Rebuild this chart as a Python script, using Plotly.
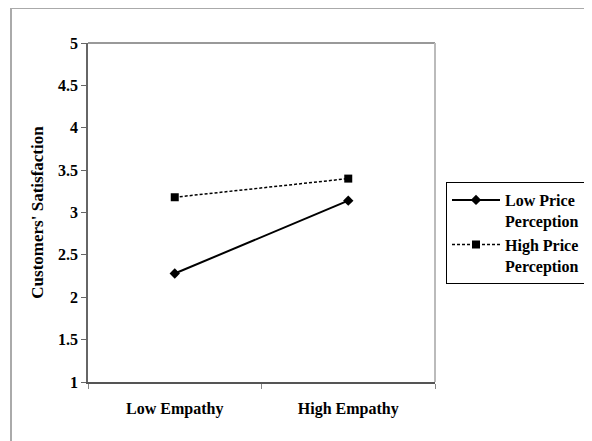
import plotly.graph_objects as go

categories = ["Low Empathy", "High Empathy"]
low_price = [2.28, 3.14]
high_price = [3.18, 3.40]
y_ticks = [1, 1.5, 2, 2.5, 3, 3.5, 4, 4.5, 5]
y_tick_text = ["1", "1.5", "2", "2.5", "3", "3.5", "4", "4.5", "5"]

FONT = "Liberation Serif"

fig = go.Figure()
fig.add_trace(go.Scatter(
    x=categories, y=low_price, mode="lines+markers",
    name="<b>Low Price</b><br><b>Perception</b>",
    line=dict(color="black", width=2),
    marker=dict(symbol="diamond", size=8, color="black"),
))
fig.add_trace(go.Scatter(
    x=categories, y=high_price, mode="lines+markers",
    name="<b>High Price</b><br><b>Perception</b>",
    line=dict(color="black", width=1.5, dash="3px,2px"),
    marker=dict(symbol="square", size=8, color="black"),
))

# page offset compensation (browser body margin ~8px)
OX, OY = 8, 8
W, H = 592, 441
L, T = 88 - OX, 43 - OY
Rpx, Bpx = 435 - OX, 382 - OY
R, B = W - Rpx, H - Bpx
pw, ph = Rpx - L, Bpx - T

def px_x(x):
    return (x - OX - L) / pw

def px_y(y):
    return (Bpx - (y - OY)) / ph

fig.update_layout(
    width=W, height=H,
    margin=dict(l=L, r=R, t=T, b=B),
    paper_bgcolor="white", plot_bgcolor="white",
    font=dict(family=FONT, size=16, color="black"),
    showlegend=True,
    legend=dict(
        x=px_x(446), y=px_y(182), xanchor="left", yanchor="top",
        bordercolor="black", borderwidth=1, bgcolor="white",
        font=dict(family=FONT, size=16, color="black"),
        itemwidth=48, valign="top",
    ),
    xaxis=dict(
        type="category", range=[-0.5, 1.5],
        showline=True, linecolor="#555555", linewidth=1.5,
        mirror=False, showgrid=False, zeroline=False,
        ticks="outside", tickson="boundaries", ticklen=5, tickcolor="#888888",
        tickvals=categories, ticktext=["<b>" + c + "</b>" for c in categories],
        tickfont=dict(family=FONT, size=16, color="black"),
        ticklabelstandoff=11,
    ),
    yaxis=dict(
        range=[1, 5],
        showline=True, linecolor="#666666", linewidth=1.5,
        showgrid=False, zeroline=False,
        ticks="outside", ticklen=5, tickcolor="#666666",
        tickvals=y_ticks, ticktext=["<b>" + t + "</b>" for t in y_tick_text],
        tickfont=dict(family=FONT, size=16, color="black"),
        title=dict(text="<b>Customers' Satisfaction</b>",
                   font=dict(family=FONT, size=17, color="black"), standoff=10),
    ),
    shapes=[
        dict(type="line", xref="paper", yref="paper", x0=0, x1=1, y0=1, y1=1,
             line=dict(color="#999999", width=2)),
        dict(type="line", xref="paper", yref="paper", x0=1, x1=1, y0=0, y1=1,
             line=dict(color="#bbbbbb", width=2)),
        dict(type="rect", xref="paper", yref="paper",
             x0=px_x(11), x1=3, y0=-2, y1=px_y(8),
             line=dict(color="#aaaaaa", width=2), layer="below"),
    ],
)

fig.write_html("out.html")
